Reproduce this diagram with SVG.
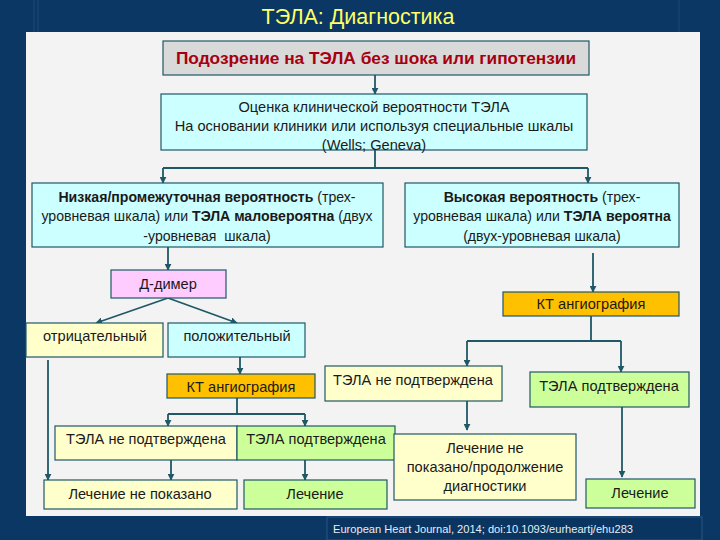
<svg xmlns="http://www.w3.org/2000/svg" width="720" height="540" viewBox="0 0 720 540">
<defs>
<style>
.box{stroke:#1f5866;stroke-width:1.2}
.t{font-family:"Liberation Sans",Arial,sans-serif;font-size:14.6px;fill:#1a1a1a;text-anchor:middle}
.s{font-size:14.1px}
.b{font-weight:bold}
.c{fill:none;stroke:#1f5866;stroke-width:1.8}
.ca{fill:none;stroke:#1f5866;stroke-width:1.8;marker-end:url(#ah)}
.yel{fill:#ffffcc}.grn{fill:#ccff99}.cya{fill:#ccffff}.org{fill:#ffc000}.pnk{fill:#ffccff}.gry{fill:#d9d9d9}
</style>
<marker id="ah" viewBox="0 0 10 10" refX="9" refY="5" markerWidth="7" markerHeight="7" markerUnits="userSpaceOnUse" orient="auto">
<path d="M0,0 L10,5 L0,10 z" fill="#1f5866"/>
</marker>
</defs>
<rect x="0" y="0" width="720" height="540" fill="#0a3764"/>
<line x1="34" y1="0" x2="34" y2="32" stroke="#1b4878" stroke-width="1"/>
<line x1="38" y1="0" x2="38" y2="32" stroke="#1b4878" stroke-width="1"/>
<line x1="679" y1="0" x2="679" y2="32" stroke="#1b4878" stroke-width="1"/>
<rect x="26" y="32" width="674" height="484" fill="#f3f3f4"/>
<text x="358" y="24" font-family="Liberation Sans,Arial,sans-serif" font-size="21.5" fill="#ffff66" text-anchor="middle">ТЭЛА: Диагностика</text>
<g id="footer">
<rect x="327" y="517" width="375" height="23" fill="#0a3560" stroke="#2a5684" stroke-width="1"/>
<text x="333" y="533" font-family="Liberation Sans,Arial,sans-serif" font-size="11" fill="#e8eef5" textLength="300" lengthAdjust="spacingAndGlyphs">European Heart Journal, 2014; doi:10.1093/eurheartj/ehu283</text>
</g>

<g id="connectors">
<path class="ca" d="M375,75 V94"/>
<path class="c" d="M375,150 V168 M163,168 H588"/>
<path class="ca" d="M163,168 V183"/>
<path class="ca" d="M588,168 V183"/>
<path class="ca" d="M168,247 V270"/>
<path class="ca" d="M593,253 V292"/>
<path class="ca" d="M168,298 L96,323"/>
<path class="ca" d="M168,298 L237,323"/>
<path class="ca" d="M240,357 V374"/>
<path class="ca" d="M48,360 V480"/>
<path class="c" d="M237,398 V414 M168,414 H305"/>
<path class="ca" d="M168,414 V426"/>
<path class="ca" d="M305,414 V426"/>
<path class="ca" d="M171,460 V480"/>
<path class="ca" d="M305,460 V480"/>
<path class="c" d="M591,316 V341 M467,341 H621"/>
<path class="ca" d="M467,341 V366"/>
<path class="ca" d="M621,341 V372"/>
<path class="ca" d="M467,401 V430"/>
<path class="ca" d="M622,407 V477"/>
</g>

<g id="suspicion">
<rect class="box gry" x="163" y="41" width="426" height="34"/>
<text class="t b" x="376" y="64" style="fill:#a50010;font-size:17.3px">Подозрение на ТЭЛА без шока или гипотензии</text>
</g>
<g id="assessment">
<rect class="box cya" x="161" y="94" width="426" height="56"/>
<text class="t" x="374" y="112">Оценка клинической вероятности ТЭЛА</text>
<text class="t" x="374" y="131">На основании клиники или используя специальные шкалы</text>
<text class="t" x="374" y="150">(Wells; Geneva)</text>
</g>
<g id="low">
<rect class="box cya" x="32" y="183" width="351" height="64"/>
<text class="t s" x="207" y="202"><tspan class="b">Низкая/промежуточная вероятность</tspan> (трех-</text>
<text class="t s" x="207" y="221">уровневая шкала) или <tspan class="b">ТЭЛА маловероятна</tspan> (двух</text>
<text class="t s" x="207" y="241" xml:space="preserve">-уровневая  шкала)</text>
</g>
<g id="high">
<rect class="box cya" x="405" y="183" width="274" height="64"/>
<text class="t s" x="542" y="202"><tspan class="b">Высокая вероятность</tspan> (трех-</text>
<text class="t s" x="542" y="221">уровневая шкала) или <tspan class="b">ТЭЛА вероятна</tspan></text>
<text class="t s" x="542" y="241">(двух-уровневая шкала)</text>
</g>
<g id="ddimer">
<rect class="box pnk" x="111" y="270" width="115" height="28"/>
<text class="t" x="168" y="289">Д-димер</text>
</g>
<g id="ct-right">
<rect class="box org" x="503" y="292" width="176" height="24"/>
<text class="t" x="591" y="309">КТ ангиография</text>
</g>
<g id="negative">
<rect class="box yel" x="26" y="323" width="137" height="34"/>
<text class="t" x="95" y="341">отрицательный</text>
</g>
<g id="positive">
<rect class="box cya" x="168" y="323" width="137" height="34"/>
<text class="t" x="237" y="341">положительный</text>
</g>
<g id="ct-left">
<rect class="box org" x="167" y="374" width="148" height="24"/>
<text class="t" x="241" y="392">КТ ангиография</text>
</g>
<g id="not-confirmed-mid">
<rect class="box yel" x="325" y="366" width="177" height="35"/>
<text class="t" x="413" y="385">ТЭЛА не подтверждена</text>
</g>
<g id="confirmed-right">
<rect class="box grn" x="530" y="372" width="159" height="35"/>
<text class="t" x="609" y="391">ТЭЛА подтверждена</text>
</g>
<g id="not-confirmed-left">
<rect class="box yel" x="55" y="426" width="182" height="34"/>
<text class="t" x="146" y="444">ТЭЛА не подтверждена</text>
</g>
<g id="confirmed-left">
<rect class="box grn" x="237" y="426" width="158" height="34"/>
<text class="t" x="316" y="444">ТЭЛА подтверждена</text>
</g>
<g id="no-treatment">
<rect class="box yel" x="44" y="480" width="193" height="29"/>
<text class="t" x="140" y="499">Лечение не показано</text>
</g>
<g id="treatment-left">
<rect class="box grn" x="244" y="480" width="143" height="29"/>
<text class="t" x="315" y="499">Лечение</text>
</g>
<g id="no-treatment-continue">
<rect class="box yel" x="394" y="434" width="182" height="66"/>
<text class="t" x="485" y="453">Лечение не</text>
<text class="t" x="485" y="472">показано/продолжение</text>
<text class="t" x="485" y="491">диагностики</text>
</g>
<g id="treatment-right">
<rect class="box grn" x="586" y="479" width="109" height="29"/>
<text class="t" x="640" y="498">Лечение</text>
</g>
</svg>
